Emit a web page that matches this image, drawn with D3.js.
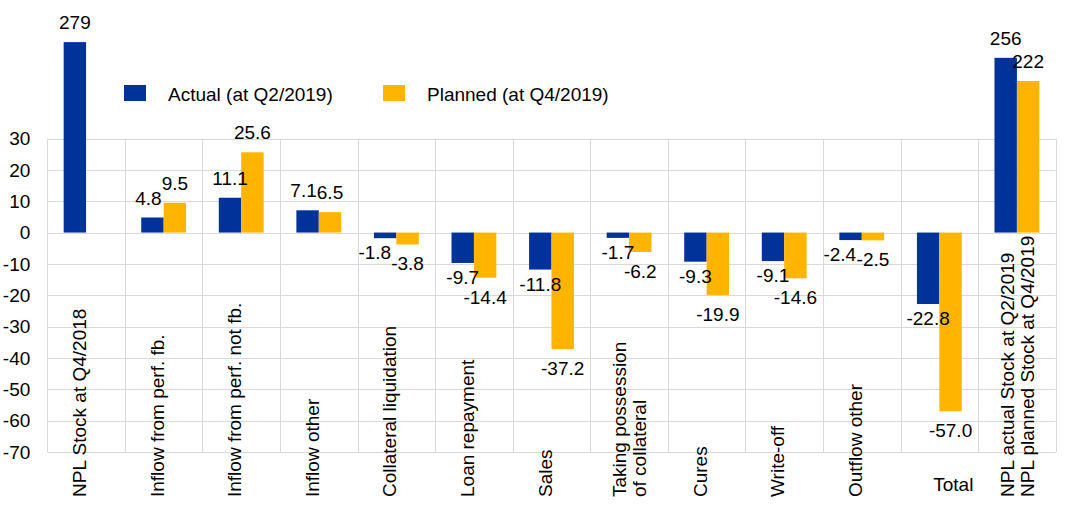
<!DOCTYPE html>
<meta charset="utf-8">
<style>
  body {
    margin: 0;
    background: #fff;
  }

  text {
    font-family: "Liberation Sans", Arial, sans-serif;
    font-size: 19px;
    fill: #000;
  }

  .grid line {
    stroke: #d9d9d9;
    stroke-width: 1;
  }
</style>

<body>
  <div id="chart"></div>

  <script src="https://d3js.org/d3.v7.min.js"></script>
  <script>
    // data
    var categories = [
      "NPL Stock at Q4/2018",
      "Inflow from perf. fb.",
      "Inflow from perf. not fb.",
      "Inflow other",
      "Collateral liquidation",
      "Loan repayment",
      "Sales",
      "Taking possession\nof collateral",
      "Cures",
      "Write-off",
      "Outflow other",
      "Total",
      "NPL actual Stock at Q2/2019\nNPL planned Stock at Q4/2019"
    ];
    var actual = [279, 4.8, 11.1, 7.1, -1.8, -9.7, -11.8, -1.7, -9.3, -9.1, -2.4, -22.8, 256];
    var planned = [null, 9.5, 25.6, 6.5, -3.8, -14.4, -37.2, -6.2, -19.9, -14.6, -2.5, -57.0, 222];
    // stock levels are drawn on their own (compressed) scale
    var stockCategories = ["NPL Stock at Q4/2018", "NPL actual Stock at Q2/2019\nNPL planned Stock at Q4/2019"];
    var horizontalLabels = ["Total"];
    var yTicks = [-70, -60, -50, -40, -30, -20, -10, 0, 10, 20, 30];
    var seriesNames = ["Actual (at Q2/2019)", "Planned (at Q4/2019)"];
    var seriesKeys = ["actual", "planned"];
    var colors = {
      actual: "#003299",
      planned: "#ffb400"
    };

    // plain hyphen for negatives, like the original
    var locale = d3.formatLocale({
      decimal: ".",
      thousands: ",",
      grouping: [3],
      currency: ["", ""],
      minus: "-"
    });
    var fmt1 = locale.format(".1f"),
      fmt0 = locale.format("d");

    var W = 1072,
      H = 513;
    var margin = {
      top: 138.5,
      right: 16.3,
      bottom: 61,
      left: 47.3
    };

    var svg = d3.select("#chart")
      .append("svg")
      .attr("width", W)
      .attr("height", H);

    var x = d3.scaleBand()
      .domain(categories)
      .range([margin.left, W - margin.right])
      .paddingInner(0);

    var x1 = d3.scaleBand()
      .domain(seriesKeys)
      .range([0, x.bandwidth()])
      .paddingOuter(0.73);

    var y = d3.scaleLinear()
      .domain([-70, 30])
      .range([H - margin.bottom, margin.top]);

    var yStock = d3.scaleLinear()
      .domain([0, 300])
      .range([y(0), y(0) - 0.6825 * 300]);

    // grid
    var grid = svg.append("g").attr("class", "grid");
    grid.selectAll(".h")
      .data(yTicks)
      .enter().append("line")
      .attr("x1", margin.left)
      .attr("x2", W - margin.right)
      .attr("y1", function(d) { return Math.round(y(d)) + 0.5; })
      .attr("y2", function(d) { return Math.round(y(d)) + 0.5; });

    var edges = categories.map(function(c) { return x(c); }).concat([W - margin.right]);
    grid.selectAll(".v")
      .data(edges)
      .enter().append("line")
      .attr("x1", function(d) { return Math.round(d) + 0.5; })
      .attr("x2", function(d) { return Math.round(d) + 0.5; })
      .attr("y1", y(30))
      .attr("y2", y(-70));

    // y tick labels
    svg.append("g")
      .selectAll("text")
      .data(yTicks)
      .enter().append("text")
      .attr("x", margin.left - 17)
      .attr("y", function(d) { return y(d); })
      .attr("dy", "0.35em")
      .attr("text-anchor", "end")
      .text(function(d) { return fmt0(d); });

    // flatten data
    var rows = [];
    categories.forEach(function(c, i) {
      [actual[i], planned[i]].forEach(function(v, j) {
        if (v === null) return;
        rows.push({
          cat: c,
          key: seriesKeys[j],
          value: v,
          stock: stockCategories.indexOf(c) >= 0
        });
      });
    });

    function scaleFor(d) {
      return d.stock ? yStock : y;
    }

    var bars = svg.append("g");
    bars.selectAll("rect")
      .data(rows)
      .enter().append("rect")
      .attr("x", function(d) { return x(d.cat) + x1(d.key); })
      .attr("width", x1.bandwidth())
      .attr("y", function(d) { var s = scaleFor(d); return Math.min(s(0), s(d.value)); })
      .attr("height", function(d) { var s = scaleFor(d); return Math.abs(s(d.value) - s(0)); })
      .attr("fill", function(d) { return colors[d.key]; });

    // value labels
    var labels = svg.append("g")
      .selectAll("text")
      .data(rows)
      .enter().append("text")
      .attr("x", function(d) { return x(d.cat) + x1(d.key) + x1.bandwidth() / 2; })
      .attr("y", function(d) {
        var s = scaleFor(d);
        if (d.value >= 0) return s(d.value) - 13;
        return s(d.value) + (d.key === "actual" ? 21 : 26);
      })
      .attr("text-anchor", "middle")
      .text(function(d) { return d.stock ? fmt0(d.value) : fmt1(d.value); });

    // push the "actual" label left when it runs into the "planned" one
    var byCat = d3.group(labels.nodes(), function(n) { return d3.select(n).datum().cat; });
    byCat.forEach(function(nodes) {
      if (nodes.length < 2) return;
      var a = nodes[0].getBBox(),
        p = nodes[1].getBBox();
      var overlapX = a.x + a.width - p.x;
      var overlapY = Math.min(a.y + a.height, p.y + p.height) - Math.max(a.y, p.y);
      if (overlapX > 0 && overlapY > 2) {
        var sel = d3.select(nodes[0]);
        sel.attr("x", +sel.attr("x") - overlapX);
      }
    });

    // category labels
    var catG = svg.append("g");
    categories.forEach(function(c) {
      var cx = x(c) + x.bandwidth() / 2;
      if (horizontalLabels.indexOf(c) >= 0) {
        catG.append("text")
          .attr("x", cx + 14)
          .attr("y", 491)
          .attr("text-anchor", "middle")
          .text(c);
        return;
      }
      var lines = c.split("\n");
      lines.forEach(function(line, i) {
        var bx = cx + 20 * (i - (lines.length - 1) / 2) + (lines.length > 1 ? 7 : 0);
        catG.append("text")
          .attr("transform", "translate(" + bx + ",497) rotate(-90)")
          .attr("text-anchor", "start")
          .text(line);
      });
    });

    // legend
    var legendX = [124, 383];
    var legend = svg.append("g");
    seriesKeys.forEach(function(k, i) {
      legend.append("rect")
        .attr("x", legendX[i])
        .attr("y", 85)
        .attr("width", 22)
        .attr("height", 16)
        .attr("fill", colors[k]);
      legend.append("text")
        .attr("x", legendX[i] + 44)
        .attr("y", 101)
        .text(seriesNames[i]);
    });
  </script>
</body>
